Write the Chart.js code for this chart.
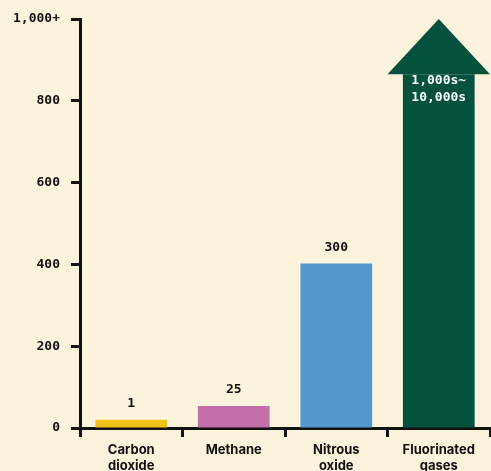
<!DOCTYPE html>
<html>
<head>
<meta charset="utf-8">
<script src="https://cdn.jsdelivr.net/npm/chart.js@4"></script>
<style>
  html, body { margin: 0; padding: 0; background: #fcf3dd; overflow: hidden; }
  #wrap { width: 491px; height: 471px; }
</style>
</head>
<body>
<div id="wrap"><canvas id="gwpChart" width="491" height="471"></canvas></div>
<script>
// categories and values
const categories = [['Carbon', 'dioxide'], ['Methane'], ['Nitrous', 'oxide'], ['Fluorinated', 'gases']];
const barHeights = [20, 54, 402, 865];      // drawn bar heights (schematic)
const valueLabels = ['1', '25', '300', ''];
const arrowTip = 1000;
const arrowText = ['1,000s~', '10,000s'];
const barColors = ['#efc11a', '#c46fa9', '#5497cf', '#04523e'];
const yTicks = [0, 200, 400, 600, 800, 1000];

const mono = "'DejaVu Sans Mono', monospace";

// arrow head on top of the last bar + labels above bars
const arrowAndLabels = {
  id: 'arrowAndLabels',
  afterDatasetsDraw(chart) {
    const ctx = chart.ctx;
    const meta = chart.getDatasetMeta(0);
    const yScale = chart.scales.y;
    const xScale = chart.scales.x;
    const catW = (xScale.right - xScale.left) / categories.length;

    // arrowhead
    const last = meta.data[meta.data.length - 1];
    ctx.save();
    ctx.fillStyle = barColors[3];
    ctx.beginPath();
    ctx.moveTo(last.x - catW / 2, last.y);
    ctx.lineTo(last.x, yScale.getPixelForValue(arrowTip));
    ctx.lineTo(last.x + catW / 2, last.y);
    ctx.closePath();
    ctx.fill();

    ctx.font = 'bold 13px ' + mono;
    ctx.textAlign = 'center';
    ctx.textBaseline = 'middle';
    ctx.fillStyle = '#ffffff';
    ctx.fillText(arrowText[0], last.x, last.y + 6);
    ctx.fillText(arrowText[1], last.x, last.y + 23);

    ctx.fillStyle = '#111111';
    meta.data.forEach((bar, i) => {
      if (valueLabels[i]) ctx.fillText(valueLabels[i], bar.x, bar.y - 16);
    });
    ctx.restore();
  }
};

new Chart(document.getElementById('gwpChart'), {
  type: 'bar',
  data: {
    labels: categories,
    datasets: [{
      data: barHeights,
      backgroundColor: barColors,
      borderWidth: 0,
      barPercentage: 0.7,
      categoryPercentage: 1
    }]
  },
  options: {
    responsive: false,
    animation: false,
    layout: { padding: { top: 19, right: 1, left: 0, bottom: 0 } },
    plugins: { legend: { display: false }, tooltip: { enabled: false } },
    scales: {
      y: {
        min: 0,
        max: 1000,
        afterFit(scale) { scale.width = 80; },
        afterBuildTicks(scale) { scale.ticks = yTicks.map(v => ({ value: v })); },
        border: { display: true, color: '#111111', width: 3 },
        grid: { drawOnChartArea: false, tickLength: 9, tickColor: '#111111', tickWidth: 3 },
        ticks: {
          padding: 11,
          color: '#111111',
          font: { family: mono, size: 13, weight: 'bold' },
          callback: v => v === 1000 ? '1,000+' : v.toString()
        }
      },
      x: {
        afterFit(scale) { scale.height = 43; },
        border: { display: true, color: '#111111', width: 3 },
        grid: { drawOnChartArea: false, offset: true, tickLength: 9, tickColor: '#111111', tickWidth: 3 },
        ticks: {
          padding: 5,
          color: '#111111',
          font: { family: 'Inter, sans-serif', size: 13, weight: 'bold', lineHeight: 1.25 }
        }
      }
    }
  },
  plugins: [arrowAndLabels]
});
</script>
</body>
</html>
